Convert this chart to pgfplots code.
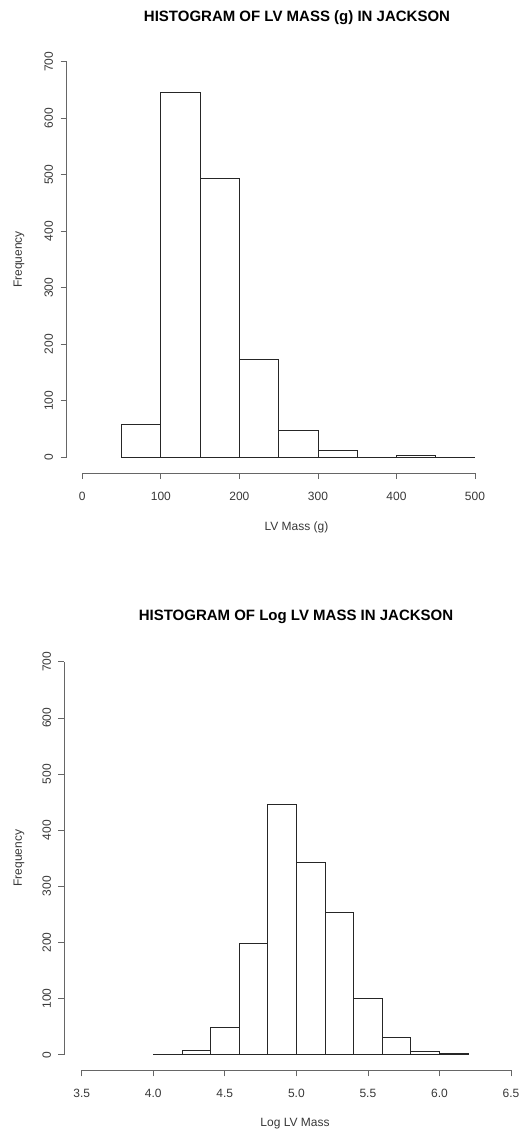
\documentclass[border=0pt]{standalone}
\usepackage{pgfplots}
\pgfplotsset{compat=1.18}
\usepackage{fontspec}
\setmainfont{Liberation Sans}

\definecolor{axgray}{gray}{0.40}
\definecolor{txtgray}{gray}{0.22}

% base-graphics look: detached axes, outward ticks, rotated y labels
\pgfplotsset{
  rhist/.style={
    scale only axis,
    axis x line=bottom,
    axis y line=left,
    axis line style={draw=none},
    tick align=outside,
    major tick length=6pt,
    tick style={axgray, line width=0.7pt},
    minor tick num=0,
    /pgf/number format/assume math mode=true,
    ticklabel style={font=\fontsize{12}{14}\selectfont, text=txtgray},
    xticklabel style={yshift=-9pt},
    yticklabel style={xshift=-4pt, rotate=90, anchor=south},
    ymin=-28, ymax=728,
    ytick={0,100,...,700},
    clip=false,
  },
  histbar/.style={ybar interval, fill=white, draw=black!85, line width=0.7pt},
}

\begin{document}
\begin{tikzpicture}
\path[use as bounding box] (0pt,0pt) rectangle (528pt,-1135pt);

% ---- LV mass (g) ----
\begin{axis}[rhist,
  at={(66.6pt,-473.1pt)}, anchor=south west,
  width=424.1pt, height=427.2pt,
  xmin=-20, xmax=520,
  xtick={0,100,...,500},
]
\addplot[histbar] coordinates {
  (50,58) (100,645) (150,493) (200,174) (250,48) (300,13)
  (350,0) (400,3) (450,0) (500,0)
};
\draw[axgray, line width=0.7pt] (axis cs:0,-28) -- (axis cs:500,-28);
\draw[axgray, line width=0.7pt] (axis cs:-20,0) -- (axis cs:-20,700);
\end{axis}

% ---- log LV mass ----
\begin{axis}[rhist,
  at={(64.5pt,-1070.4pt)}, anchor=south west,
  width=463.7pt, height=424.4pt,
  xmin=3.38, xmax=6.62,
  xtick={3.5,4.0,...,6.5},
  xticklabel style={/pgf/number format/.cd, fixed, fixed zerofill, precision=1},
]
\addplot[histbar] coordinates {
  (4.0,1) (4.2,7) (4.4,48) (4.6,199) (4.8,446) (5.0,342) (5.2,254)
  (5.4,100) (5.6,31) (5.8,6) (6.0,2) (6.2,2)
};
\draw[axgray, line width=0.7pt] (axis cs:3.5,-28) -- (axis cs:6.5,-28);
\draw[axgray, line width=0.7pt] (axis cs:3.38,0) -- (axis cs:3.38,700);
\end{axis}

% titles and axis labels
\node[font=\bfseries\fontsize{15}{18}\selectfont] at (297pt,-17.5pt)
  {HISTOGRAM OF LV MASS (g) IN JACKSON};
\node[font=\bfseries\fontsize{15}{18}\selectfont] at (296pt,-616.5pt)
  {HISTOGRAM OF Log LV MASS IN JACKSON};
\node[font=\fontsize{12}{14}\selectfont, text=txtgray] at (296.5pt,-527pt) {LV Mass (g)};
\node[font=\fontsize{12}{14}\selectfont, text=txtgray] at (295pt,-1124pt) {Log LV Mass};
\node[font=\fontsize{12}{14}\selectfont, text=txtgray, rotate=90] at (19pt,-259.5pt) {Frequency};
\node[font=\fontsize{12}{14}\selectfont, text=txtgray, rotate=90] at (19pt,-858pt) {Frequency};
\end{tikzpicture}
\end{document}
